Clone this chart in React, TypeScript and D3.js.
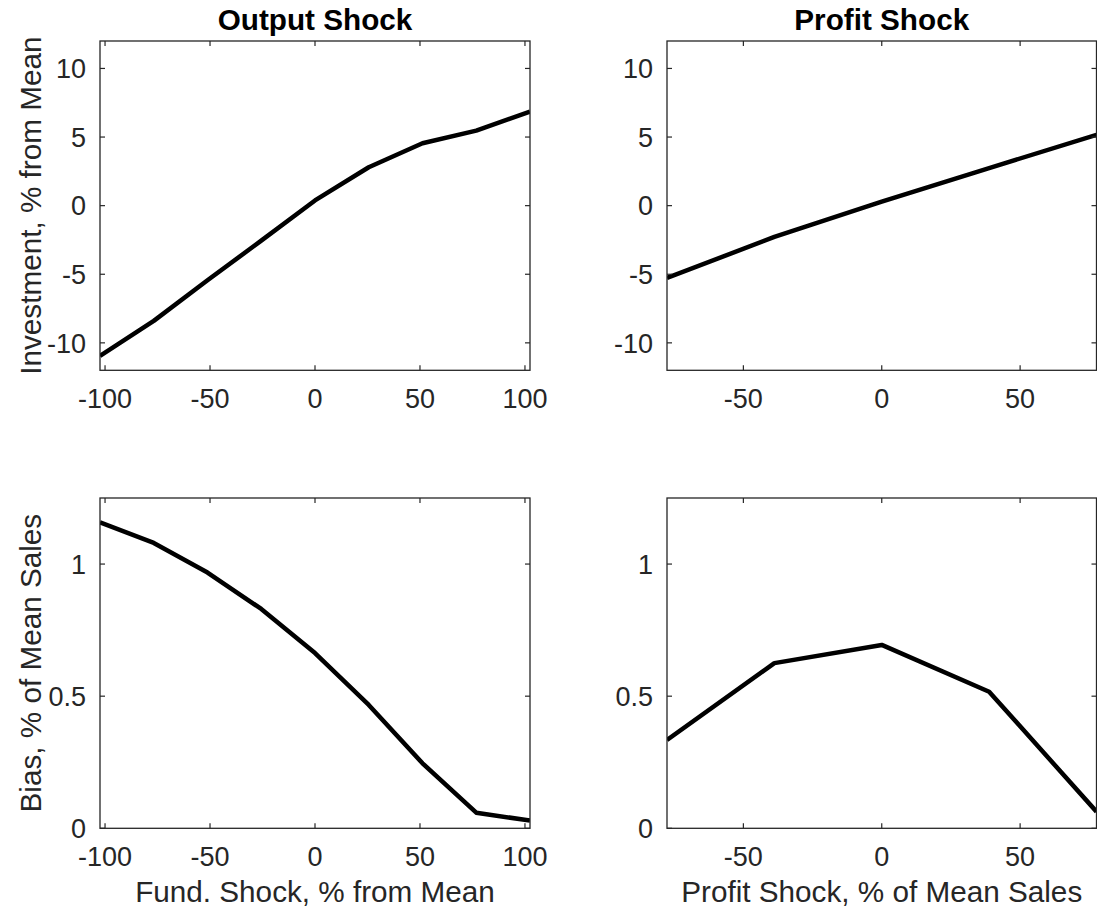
import React from "react";
import * as d3 from "d3";

// ---- Data ----
const outputShockX = [-102.4, -76.8, -51.2, -25.6, 0, 25.6, 51.2, 76.8, 102.4];
const outputInvestment = [-10.95, -8.4, -5.44, -2.55, 0.38, 2.8, 4.55, 5.47, 6.85];
const outputBias = [1.158, 1.08, 0.968, 0.83, 0.663, 0.467, 0.246, 0.059, 0.029];

const profitShockX = [-77.6, -38.8, 0, 38.8, 77.6];
const profitInvestment = [-5.27, -2.28, 0.3, 2.74, 5.16];
const profitBias = [0.334, 0.625, 0.694, 0.517, 0.063];

const outputXTicks = [-100, -50, 0, 50, 100];
const profitXTicks = [-50, 0, 50];
const investmentYTicks = [-10, -5, 0, 5, 10];
const biasYTicks = [0, 0.5, 1];

const titles = ["Output Shock", "Profit Shock"];
const yLabels = ["Investment, % from Mean", "Bias, % of Mean Sales"];
const xLabels = ["Fund. Shock, % from Mean", "Profit Shock, % of Mean Sales"];

// ---- Layout ----
const W = 1097;
const H = 913;
const FONT = "'Liberation Sans', Arial, Helvetica, sans-serif";
const AX = "#262626";
const cols = [
  { x0: 100, x1: 530 },
  { x0: 667, x1: 1096.5 },
];
const rows = [
  { y0: 41, y1: 370.3 },
  { y0: 498, y1: 828.3 },
];

type PanelProps = {
  id: string;
  xs: number[];
  ys: number[];
  xDomain: [number, number];
  yDomain: [number, number];
  xTicks: number[];
  yTicks: number[];
  col: { x0: number; x1: number };
  row: { y0: number; y1: number };
  title?: string;
  xLabel?: string;
  yLabel?: string;
};

function Panel(p: PanelProps) {
  const x = d3.scaleLinear().domain(p.xDomain).range([p.col.x0, p.col.x1]);
  const y = d3.scaleLinear().domain(p.yDomain).range([p.row.y1, p.row.y0]);
  const pts = p.xs.map((v, i) => [v, p.ys[i]] as [number, number]);
  const line = d3
    .line<[number, number]>()
    .x((d) => x(d[0]))
    .y((d) => y(d[1]));
  const tl = 5;
  const { x0, x1 } = p.col;
  const { y0, y1 } = p.row;
  return (
    <g>
      <defs>
        <clipPath id={p.id}>
          <rect x={x0} y={y0} width={x1 - x0} height={y1 - y0} />
        </clipPath>
      </defs>
      <path
        d={line(pts) || ""}
        fill="none"
        stroke="#000"
        strokeWidth={4.5}
        strokeLinejoin="round"
        clipPath={`url(#${p.id})`}
      />
      {/* ticks */}
      {p.xTicks.map((t) => (
        <g key={"xt" + t}>
          <line x1={x(t)} x2={x(t)} y1={y1} y2={y1 - tl} stroke={AX} strokeWidth={1.2} />
          <line x1={x(t)} x2={x(t)} y1={y0} y2={y0 + tl} stroke={AX} strokeWidth={1.2} />
          <text
            x={x(t)}
            y={y1 + 37.5}
            textAnchor="middle"
            fontFamily={FONT}
            fontSize={27}
            fill={AX}
          >
            {String(t)}
          </text>
        </g>
      ))}
      {p.yTicks.map((t) => (
        <g key={"yt" + t}>
          <line x1={x0} x2={x0 + tl} y1={y(t)} y2={y(t)} stroke={AX} strokeWidth={1.2} />
          <line x1={x1} x2={x1 - tl} y1={y(t)} y2={y(t)} stroke={AX} strokeWidth={1.2} />
          <text
            x={x0 - 14}
            y={y(t)}
            dy="0.36em"
            textAnchor="end"
            fontFamily={FONT}
            fontSize={27}
            fill={AX}
          >
            {String(t)}
          </text>
        </g>
      ))}
      {/* box */}
      <rect
        x={x0}
        y={y0}
        width={x1 - x0}
        height={y1 - y0}
        fill="none"
        stroke={AX}
        strokeWidth={1.3}
      />
      {p.title && (
        <text
          x={(x0 + x1) / 2}
          y={y0 - 11}
          textAnchor="middle"
          fontFamily={FONT}
          fontSize={29.7}
          fontWeight="bold"
          fill="#000"
        >
          {p.title}
        </text>
      )}
      {p.xLabel && (
        <text
          x={(x0 + x1) / 2}
          y={y1 + 73.4}
          textAnchor="middle"
          fontFamily={FONT}
          fontSize={29.7}
          fill={AX}
        >
          {p.xLabel}
        </text>
      )}
      {p.yLabel && (
        <text
          transform={`translate(${41},${(y0 + y1) / 2}) rotate(-90)`}
          textAnchor="middle"
          fontFamily={FONT}
          fontSize={29.7}
          fill={AX}
        >
          {p.yLabel}
        </text>
      )}
    </g>
  );
}

export default function App() {
  return (
    <svg
      width={W}
      height={H}
      viewBox={`0 0 ${W} ${H}`}
      style={{ position: "absolute", left: 0, top: 0, background: "#fff" }}
    >
      <rect x={0} y={0} width={W} height={H} fill="#fff" />
      <Panel
        id="c1"
        xs={outputShockX}
        ys={outputInvestment}
        xDomain={[-102.4, 102.4]}
        yDomain={[-12, 12]}
        xTicks={outputXTicks}
        yTicks={investmentYTicks}
        col={cols[0]}
        row={rows[0]}
        title={titles[0]}
        yLabel={yLabels[0]}
      />
      <Panel
        id="c2"
        xs={profitShockX}
        ys={profitInvestment}
        xDomain={[-77.6, 77.6]}
        yDomain={[-12, 12]}
        xTicks={profitXTicks}
        yTicks={investmentYTicks}
        col={cols[1]}
        row={rows[0]}
        title={titles[1]}
      />
      <Panel
        id="c3"
        xs={outputShockX}
        ys={outputBias}
        xDomain={[-102.4, 102.4]}
        yDomain={[0, 1.25]}
        xTicks={outputXTicks}
        yTicks={biasYTicks}
        col={cols[0]}
        row={rows[1]}
        xLabel={xLabels[0]}
        yLabel={yLabels[1]}
      />
      <Panel
        id="c4"
        xs={profitShockX}
        ys={profitBias}
        xDomain={[-77.6, 77.6]}
        yDomain={[0, 1.25]}
        xTicks={profitXTicks}
        yTicks={biasYTicks}
        col={cols[1]}
        row={rows[1]}
        xLabel={xLabels[1]}
      />
    </svg>
  );
}
